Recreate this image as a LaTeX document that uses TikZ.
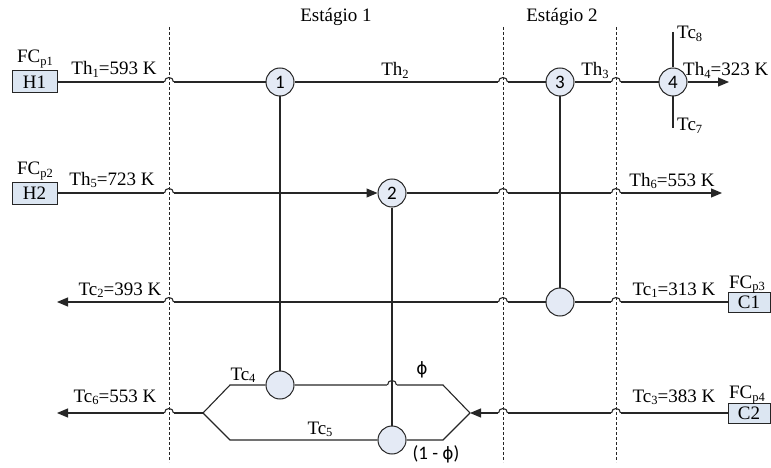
\documentclass[tikz,border=0pt]{standalone}
\usepackage{fontspec}
\setmainfont{Liberation Serif}
\newfontfamily\sansc{Carlito}
\newfontfamily\dejav{DejaVu Sans}
\usetikzlibrary{arrows.meta}
\definecolor{linec}{HTML}{262626}
\definecolor{boxfill}{HTML}{DCE6F2}
\definecolor{circfill}{HTML}{E4EAF5}
\newcommand\sbs[1]{\raisebox{-0.3ex}{\fontsize{12.5}{12}\selectfont #1}}
\newcommand\phig{{\dejav\fontsize{17}{20}\selectfont ϕ}}
\begin{document}
\begin{tikzpicture}[x=1pt,y=-1pt,
  font=\fontsize{19}{22}\selectfont,
  conn/.style={draw=linec,line width=1.1pt},
  arr/.style={conn,-{Triangle[length=11pt,width=9pt]}},
  stage/.style={draw=linec,line width=0.9pt,dash pattern=on 3pt off 2pt},
  hx/.style={circle,draw=linec,fill=circfill,line width=1pt,minimum size=28pt,inner sep=0pt,font=\sansc\fontsize{19}{22}\selectfont},
  stream/.style={rectangle,draw=linec,fill=boxfill,line width=1pt,minimum width=45pt,minimum height=22pt,inner sep=0pt},
  cstream/.style={stream,minimum width=42pt,minimum height=20pt},
  lbl/.style={inner sep=0pt,anchor=base},
  lblw/.style={inner sep=0pt,anchor=base west},
  sans/.style={inner sep=0pt,font=\sansc\fontsize{19}{22}\selectfont},
  hopover/.pic={\fill[white] (-5,-1.7) rectangle (5,1.7); \draw[conn] (-4.5,0) .. controls (-4.5,-6) and (4.5,-6) .. (4.5,0);}
]
\useasboundingbox (0,0) rectangle (771,468);

% streams
\node[stream] (H1) at (34.5,82) {H1};
\node[stream] (H2) at (34.5,193) {H2};
\node[cstream] (C1) at (749,302) {C1};
\node[cstream] (C2) at (749,413) {C2};

% exchangers
\node[hx] (E1) at (280,82) {1};
\node[hx] (E2) at (392,193) {2};
\node[hx] (E3) at (560,82) {3};
\node[hx] (E4) at (673,82) {4};
\node[hx] (E3c) at (560,302) {};
\node[hx] (E1c) at (280,385) {};
\node[hx] (E2c) at (392,440) {};

% free ends and bends
\coordinate (h1end) at (729,82);
\coordinate (h2end) at (722,193);
\coordinate (c1end) at (57,302);
\coordinate (c2end) at (57,413);
\coordinate (splitR) at (470,413);
\coordinate (splitL) at (203,413);
\coordinate (upL) at (230,385);
\coordinate (upR) at (443,385);
\coordinate (loL) at (230,440);
\coordinate (loR) at (443,440);
\coordinate (tc8) at (673,32);
\coordinate (tc7) at (673,128);

% horizontal connectors
\draw[conn] (H1) -- (E1);
\draw[conn] (E1) -- (E3);
\draw[conn] (E3) -- (E4);
\draw[arr] (E4) -- (h1end);
\draw[arr] (H2) -- (E2);
\draw[arr] (E2) -- (h2end);
\draw[conn] (C1) -- (E3c);
\draw[arr] (E3c) -- (c1end);
\draw[arr] (C2) -- (splitR);
\draw[arr] (splitL) -- (c2end);
\draw[conn] (splitL) -- (upL) -- (E1c);
\draw[conn] (E1c) -- (upR) -- (splitR);
\draw[conn] (splitL) -- (loL) -- (E2c);
\draw[conn] (E2c) -- (loR) -- (splitR);

% hops
\foreach \x in {169,503,616}{
  \foreach \y in {82,193,302,413}{
    \pic at (\x,\y) {hopover};
  }
}
\pic at (392,385) {hopover};

% vertical connectors
\draw[conn] (E1) -- (E1c);
\draw[conn] (E2) -- (E2c);
\draw[conn] (E3) -- (E3c);
\draw[conn] (tc8) -- (E4);
\draw[conn] (E4) -- (tc7);

% stage boundaries
\foreach \x/\n in {169/a,503/b,616/c}{
  \coordinate (dt\n) at (\x,27);
  \coordinate (db\n) at (\x,462);
  \draw[stage] (dt\n) -- (db\n);
}

% labels
\node[lbl] (st1) at (336,22) {Estágio 1};
\node[lbl] (st2) at (562,22) {Estágio 2};
\node[lbl] (fc1) at (35,63) {FC\sbs{p1}};
\node[lbl] (fc2) at (35,175) {FC\sbs{p2}};
\node[lbl] (fc3) at (747,288) {FC\sbs{p3}};
\node[lbl] (fc4) at (747,398.5) {FC\sbs{p4}};
\node[lbl] (th1) at (114,75) {Th\sbs{1}=593 K};
\node[lbl] (th5) at (112,185) {Th\sbs{5}=723 K};
\node[lbl] (th2) at (395,76) {Th\sbs{2}};
\node[lbl] (th3) at (595,76) {Th\sbs{3}};
\node[lblw] (th4) at (683,76) {Th\sbs{4}=323 K};
\node[lblw] (tc8l) at (677,39) {Tc\sbs{8}};
\node[lblw] (tc7l) at (677,131) {Tc\sbs{7}};
\node[lbl] (th6) at (672,186) {Th\sbs{6}=553 K};
\node[lbl] (tc2) at (120,295) {Tc\sbs{2}=393 K};
\node[lbl] (tc1) at (674,295) {Tc\sbs{1}=313 K};
\node[lbl] (tc6) at (115,402) {Tc\sbs{6}=553 K};
\node[lbl] (tc3) at (674,402) {Tc\sbs{3}=383 K};
\node[lbl] (tc4) at (243,380) {Tc\sbs{4}};
\node[lbl] (tc5) at (320,434) {Tc\sbs{5}};
\node[sans] (phi) at (422,370) {\phig};
\node[sans] (phic) at (436,454) {(1 - \phig)};
\end{tikzpicture}
\end{document}
